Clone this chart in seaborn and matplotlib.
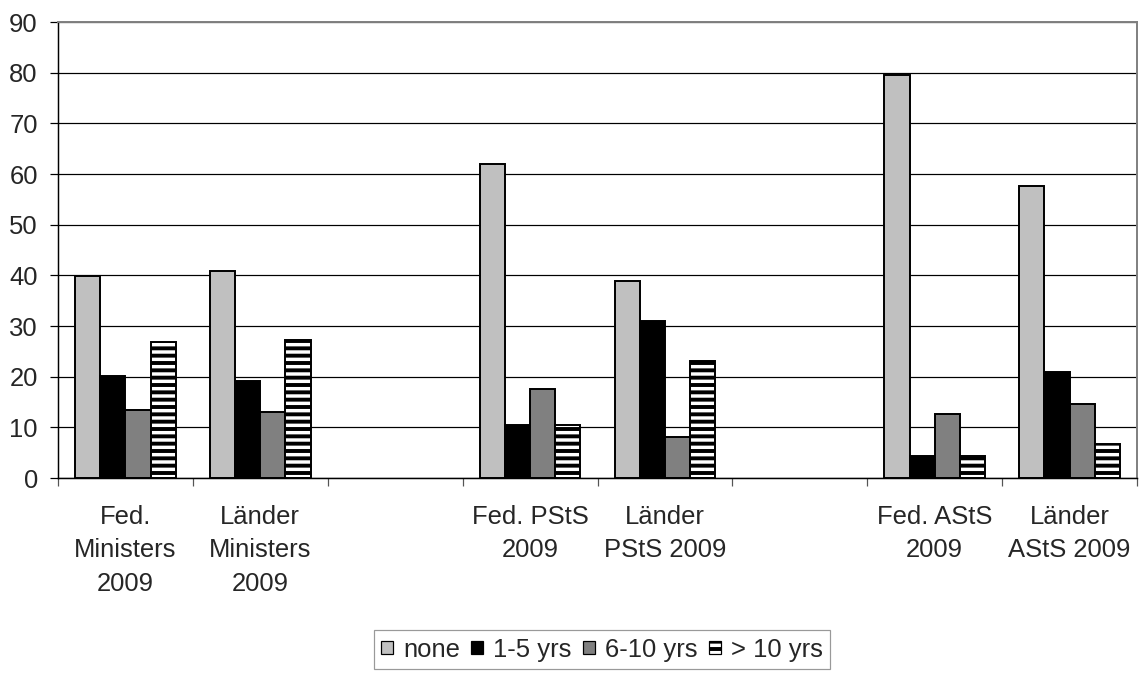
import matplotlib
matplotlib.use("Agg")
import matplotlib.pyplot as plt
from matplotlib.patches import Patch
import numpy as np
import pandas as pd
import seaborn as sns

# Category slots (two blank spacer slots separate the three office groups)
categories = ["Fed.\nMinisters\n2009", "Länder\nMinisters\n2009", " ",
              "Fed. PStS\n2009", "Länder\nPStS 2009", "  ",
              "Fed. AStS\n2009", "Länder\nAStS 2009"]
data_categories = ["Fed.\nMinisters\n2009", "Länder\nMinisters\n2009",
                   "Fed. PStS\n2009", "Länder\nPStS 2009",
                   "Fed. AStS\n2009", "Länder\nAStS 2009"]
series = ["none", "1-5 yrs", "6-10 yrs", "> 10 yrs"]

none_vals = [39.9, 40.8, 62.0, 38.9, 79.6, 57.7]
yrs_1_5 = [20.2, 19.1, 10.5, 31.0, 4.4, 21.0]
yrs_6_10 = [13.5, 13.1, 17.5, 8.0, 12.6, 14.7]
yrs_10_plus = [26.9, 27.3, 10.4, 23.1, 4.4, 6.7]

yticks = [0, 10, 20, 30, 40, 50, 60, 70, 80, 90]

colors = ["#C0C0C0", "#000000", "#808080", "#FFFFFF"]

rows = []
for s, vals in zip(series, [none_vals, yrs_1_5, yrs_6_10, yrs_10_plus]):
    for c, v in zip(data_categories, vals):
        rows.append({"category": c, "tenure": s, "value": v})
df = pd.DataFrame(rows)

sns.set_theme(style="white")
plt.rcParams["font.family"] = ["Liberation Sans", "DejaVu Sans"]
plt.rcParams["hatch.linewidth"] = 3.2
plt.rcParams["hatch.color"] = "black"

FS = 21
DPI = 88
fig = plt.figure(figsize=(1139 / DPI, 673 / DPI), dpi=DPI)
ax = fig.add_axes([58 / 1139, 1 - 478 / 673, (1137 - 58) / 1139, (478 - 22) / 673])

sns.barplot(data=df, x="category", y="value", hue="tenure",
            order=categories, hue_order=series, palette=colors,
            width=0.745, gap=0, edgecolor="black", linewidth=1.6,
            saturation=1, legend=False, ax=ax, errorbar=None)

# striped fill for the longest tenure band
for bar in ax.containers[3]:
    bar.set_facecolor("white")
    bar.set_hatch("--")

ax.set_xlim(-0.5, len(categories) - 0.5)
ax.set_ylim(0, 90)
ax.set_yticks(yticks)
ax.yaxis.grid(True, color="black", linewidth=1.0)
ax.set_axisbelow(True)
ax.set_xlabel("")
ax.set_ylabel("")

# category boundaries as ticks, names centred between them
ax.set_xticks(np.arange(-0.5, len(categories), 1.0))
ax.set_xticklabels([])
ax.set_xticks(np.arange(len(categories)), minor=True)
ax.set_xticklabels(categories, minor=True, fontsize=FS, linespacing=1.5)
ax.tick_params(axis="x", which="major", direction="out", length=6.5,
               width=1.0, color="#555555", bottom=True)
ax.tick_params(axis="x", which="minor", length=0, pad=22)
ax.tick_params(axis="y", direction="out", length=6.5, width=1.0,
               color="black", left=True, labelsize=FS, pad=10)

for side in ["left", "bottom"]:
    ax.spines[side].set_color("black")
    ax.spines[side].set_linewidth(1.2)
for side in ["top", "right"]:
    ax.spines[side].set_visible(True)
    ax.spines[side].set_color("#808080")
    ax.spines[side].set_linewidth(1.6)

handles = [Patch(facecolor=colors[i], edgecolor="black", linewidth=1.0,
                 hatch="--" if i == 3 else None) for i in range(4)]
fig.legend(handles, series, loc="upper center",
           bbox_to_anchor=(602 / 1139, 1 - 630 / 673), ncol=4,
           frameon=True, fancybox=False, edgecolor="#808080",
           fontsize=FS, handlelength=0.45, handleheight=0.45,
           handletextpad=0.4, columnspacing=0.45, borderpad=0.3,
           borderaxespad=0)

fig.savefig("out.png", dpi=DPI, facecolor="white")
